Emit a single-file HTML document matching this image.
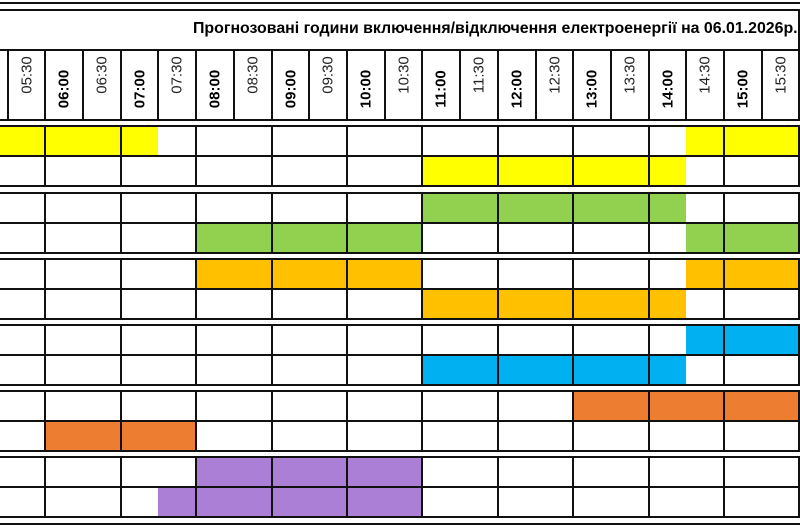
<!DOCTYPE html>
<html><head><meta charset="utf-8"><style>
body{margin:0;width:800px;height:531px;overflow:hidden;background:#fff;position:relative;font-family:"Liberation Sans",sans-serif}
div{position:absolute}
.h{height:2px;background:#111;left:0;width:800px}
.t{white-space:nowrap;font-size:15px;transform:translate(-50%,-50%) rotate(-90deg);color:#222}
.b{font-weight:bold;color:#000}
</style></head><body>
<div style="left:193px;top:20px;font-size:15.9px;font-weight:bold;white-space:nowrap">Прогнозовані години включення/відключення електроенергії на 06.01.2026р.</div>
<div id="c"></div>
<script>
var H='';
function r(x1,y1,x2,y2,c){H+='<div style="left:'+x1+'px;top:'+y1+'px;width:'+(x2-x1)+'px;height:'+(y2-y1)+'px;background:'+c+'"></div>';}
var Y='#ffff00',G='#92d050',O='#ffc000',B='#00b0f0',D='#ed7d31',P='#ab7fd6';
var rows=[[126,156],[156,186],[193,223],[223,253],[259,289],[289,319],[325,355],[355,385],[391,421],[421,451],[457,487],[487,517]];
var fills=[[[0,158,Y],[686,800,Y]],[[422,686,Y]],[[422,686,G]],[[196,422,G],[686,800,G]],[[196,422,O],[686,800,O]],[[422,686,O]],[[686,800,B]],[[422,686,B]],[[573,800,D]],[[45,196,D]],[[196,422,P]],[[158,422,P]]];
fills.forEach(function(fs,i){fs.forEach(function(f){r(f[0],rows[i][0],f[1],rows[i][1],f[2]);});});
[3,10,50,120,126,156,186,193,223,253,259,289,319,325,355,385,391,421,451,457,487,517,524].forEach(function(y){H+='<div class="h" style="top:'+(y-1)+'px"></div>';});
var hx=[8,45,83,121,158,196,234,272,309,347,385,422,460,498,536,573,611,649,686,724,762];
hx.forEach(function(x){r(x-1,50,x+1,120,'#111');});
var dx=[45,121,196,272,347,422,498,573,649,724,799];
var groups=[[126,186],[193,253],[259,319],[325,385],[391,451],[457,517]];
groups.forEach(function(g){dx.forEach(function(x){r(x-1,g[0],x+1,g[1],'#111');});});
r(798,10,800,50,'#111');r(798,50,800,120,'#111');
var labels=['05:30','06:00','06:30','07:00','07:30','08:00','08:30','09:00','09:30','10:00','10:30','11:00','11:30','12:00','12:30','13:00','13:30','14:00','14:30','15:00','15:30'];
labels.forEach(function(l,i){var cx=(hx[i]+(hx[i+1]||800))/2;var bold=l.slice(3)=='00';
H+='<div class="t'+(bold?' b':'')+'" style="left:'+cx+'px;top:'+(bold?89:75)+'px">'+l+'</div>';});
document.getElementById('c').outerHTML=H;
</script>
</body></html>
